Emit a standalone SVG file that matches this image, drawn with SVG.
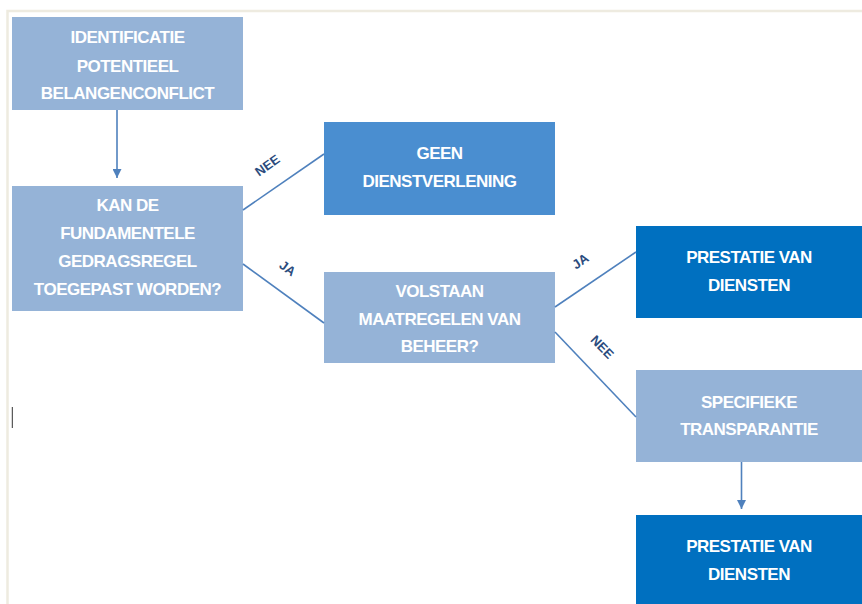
<svg xmlns="http://www.w3.org/2000/svg" width="862" height="604" viewBox="0 0 862 604">
<defs>
<style>
.box{stroke:none}
.light{fill:#95B3D7}
.mid{fill:#4A8ED0}
.dark{fill:#0070C0}
.t{font-family:"Liberation Sans",Arial,sans-serif;font-weight:bold;font-size:17px;letter-spacing:-0.5px;fill:#FFFFFF;text-anchor:middle}
.lbl{font-family:"Liberation Sans",Arial,sans-serif;font-weight:bold;font-size:13px;fill:#2B4C7E;text-anchor:middle}
.c{stroke:#4F81BD;stroke-width:1.6;fill:none}
</style>
<marker id="ah" viewBox="0 0 10 10" refX="10" refY="5" markerWidth="9" markerHeight="9" markerUnits="userSpaceOnUse" orient="auto">
<path d="M0,0 L10,5 L0,10 Z" fill="#4F81BD"/>
</marker>
</defs>
<rect width="862" height="604" fill="#FFFFFF"/>
<path d="M7.5,604 L7.5,11 L862,11" stroke="#EEEBE0" stroke-width="2.5" fill="none"/>
<line x1="12.3" y1="407" x2="12.3" y2="428" stroke="#333333" stroke-width="1"/>

<g id="n1"><rect class="box light" x="12" y="17" width="231" height="93"/>
<text class="t" x="127.5" y="43">IDENTIFICATIE</text>
<text class="t" x="127.5" y="71.5">POTENTIEEL</text>
<text class="t" x="127.5" y="99">BELANGENCONFLICT</text></g>

<g id="n2"><rect class="box light" x="12" y="186" width="231" height="125"/>
<text class="t" x="127.5" y="211">KAN DE</text>
<text class="t" x="127.5" y="239">FUNDAMENTELE</text>
<text class="t" x="127.5" y="267">GEDRAGSREGEL</text>
<text class="t" x="127.5" y="295">TOEGEPAST WORDEN?</text></g>

<g id="n3"><rect class="box mid" x="324" y="122" width="231" height="93"/>
<text class="t" x="439.5" y="159">GEEN</text>
<text class="t" x="439.5" y="187">DIENSTVERLENING</text></g>

<g id="n4"><rect class="box light" x="324" y="272" width="231" height="91"/>
<text class="t" x="439.5" y="297">VOLSTAAN</text>
<text class="t" x="439.5" y="325">MAATREGELEN VAN</text>
<text class="t" x="439.5" y="352">BEHEER?</text></g>

<g id="n5"><rect class="box dark" x="636" y="226" width="226" height="92"/>
<text class="t" x="749" y="263">PRESTATIE VAN</text>
<text class="t" x="749" y="291">DIENSTEN</text></g>

<g id="n6"><rect class="box light" x="636" y="370" width="226" height="92"/>
<text class="t" x="749" y="408">SPECIFIEKE</text>
<text class="t" x="749" y="435">TRANSPARANTIE</text></g>

<g id="n7"><rect class="box dark" x="636" y="515" width="226" height="89"/>
<text class="t" x="749" y="552">PRESTATIE VAN</text>
<text class="t" x="749" y="580">DIENSTEN</text></g>

<g id="connectors">
<line class="c" x1="117" y1="110" x2="117" y2="178" marker-end="url(#ah)"/>
<line class="c" x1="243" y1="210" x2="324" y2="154"/>
<line class="c" x1="243" y1="264" x2="324" y2="323"/>
<line class="c" x1="555" y1="307" x2="636" y2="252"/>
<line class="c" x1="555" y1="332" x2="636" y2="417"/>
<line class="c" x1="741.5" y1="462" x2="741.5" y2="509" marker-end="url(#ah)"/>
<text class="lbl" transform="translate(270,169) rotate(-35)">NEE</text>
<text class="lbl" transform="translate(285,272) rotate(36)">JA</text>
<text class="lbl" transform="translate(583,265) rotate(-34)">JA</text>
<text class="lbl" transform="translate(599,350) rotate(46)">NEE</text>
</g>
</svg>
